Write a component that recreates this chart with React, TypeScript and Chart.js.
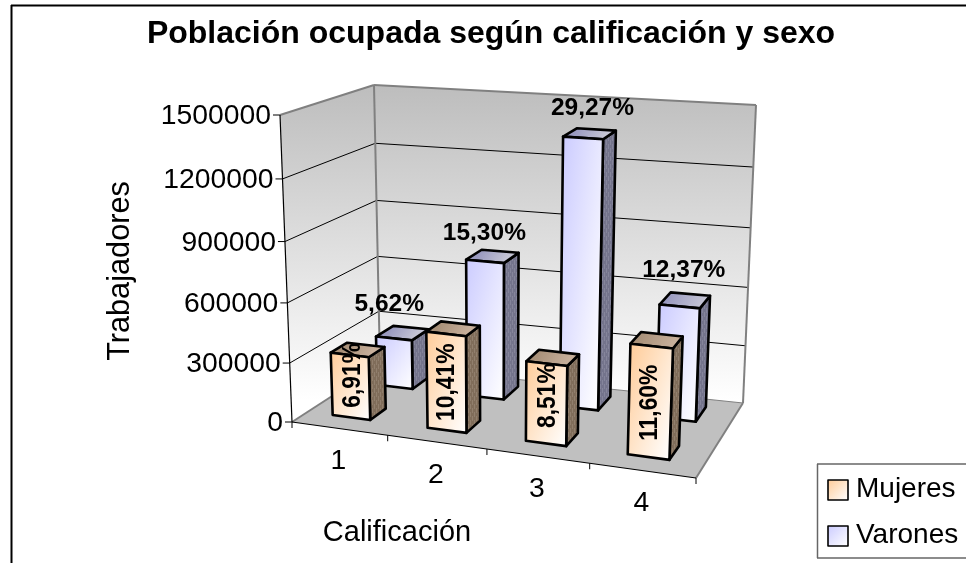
import React, { useEffect, useRef } from "react";
import { Chart, registerables } from "chart.js";

Chart.register(...registerables);

const chartTitle = "Población ocupada según calificación y sexo";
const xAxisTitle = "Calificación";
const yAxisTitle = "Trabajadores";
const categories = ["1", "2", "3", "4"];
const seriesNames = ["Mujeres", "Varones"];
const mujeres = [321000, 484000, 396000, 539000];
const varones = [261000, 711000, 1361000, 575000];
const mujeresLabels = ["6,91%", "10,41%", "8,51%", "11,60%"];
const varonesLabels = ["5,62%", "15,30%", "29,27%", "12,37%"];

type Pt = { x: number; y: number };
const FONT = '"Liberation Sans", Arial, sans-serif';

// Projection of the 3D box onto the canvas
const floorQuad: Pt[] = [
  { x: 292, y: 422 }, { x: 696, y: 478 }, { x: 743, y: 403 }, { x: 380, y: 365 },
];
const ceilQuad: Pt[] = [
  { x: 280, y: 115 }, { x: 708, y: 151 }, { x: 756, y: 105 }, { x: 374, y: 85 },
];

function bilinear(q: Pt[], u: number, d: number): Pt {
  const lx = q[0].x + (q[3].x - q[0].x) * d, ly = q[0].y + (q[3].y - q[0].y) * d;
  const rx = q[1].x + (q[2].x - q[1].x) * d, ry = q[1].y + (q[2].y - q[1].y) * d;
  return { x: lx + (rx - lx) * u, y: ly + (ry - ly) * u };
}
function project(u: number, d: number, v: number): Pt {
  const w = u - 0.07 * u * (1 - u);
  const B = bilinear(floorQuad, w, d), T = bilinear(ceilQuad, w, d);
  const f = v / (v + (1 - v) * 1.052);
  return { x: B.x + (T.x - B.x) * f, y: B.y + (T.y - B.y) * f };
}

function poly(ctx: CanvasRenderingContext2D, pts: Pt[], fill: any, stroke?: string, lw = 1) {
  ctx.beginPath();
  pts.forEach((p, i) => (i ? ctx.lineTo(p.x, p.y) : ctx.moveTo(p.x, p.y)));
  ctx.closePath();
  if (fill) { ctx.fillStyle = fill; ctx.fill(); }
  if (stroke) { ctx.strokeStyle = stroke; ctx.lineWidth = lw; ctx.lineJoin = "round"; ctx.stroke(); }
}
function seg(ctx: CanvasRenderingContext2D, a: Pt, b: Pt, color: string, lw: number) {
  ctx.beginPath(); ctx.moveTo(a.x, a.y); ctx.lineTo(b.x, b.y);
  ctx.strokeStyle = color; ctx.lineWidth = lw; ctx.stroke();
}
function text(ctx: CanvasRenderingContext2D, s: string, x: number, y: number, font: string, align: CanvasTextAlign = "center", rot = 0, squeeze = 1) {
  ctx.save();
  ctx.translate(x, y); if (rot) ctx.rotate(rot);
  if (squeeze !== 1) ctx.scale(squeeze, 1);
  ctx.font = font; ctx.fillStyle = "#000"; ctx.textAlign = align; ctx.textBaseline = "middle";
  ctx.fillText(s, 0, 0);
  ctx.restore();
}
function cornerGradient(ctx: CanvasRenderingContext2D, tl: Pt, br: Pt, c0: string, c1: string) {
  const W = Math.abs(br.x - tl.x), H = Math.abs(br.y - tl.y);
  const t = (W * H) / (H * H + W * W);
  const cx = (tl.x + br.x) / 2, cy = (tl.y + br.y) / 2;
  const g = ctx.createLinearGradient(cx - H * t, cy - W * t, cx + H * t, cy + W * t);
  g.addColorStop(0, c0); g.addColorStop(1, c1);
  return g;
}
function sidePattern(ctx: CanvasRenderingContext2D, base: string, light: string) {
  const c = document.createElement("canvas");
  c.width = 4; c.height = 8;
  const p = c.getContext("2d") as CanvasRenderingContext2D;
  p.fillStyle = base; p.fillRect(0, 0, 4, 8);
  p.fillStyle = light;
  p.fillRect(0, 0, 1, 5);
  p.fillRect(2, 4, 1, 5);
  p.fillRect(2, 0, 1, 1);
  return ctx.createPattern(c, "repeat");
}

const barStyle = [
  { front: "#FFCC99", side: "#806D5A", sideLight: "#917F6D", top0: "#A89078", top1: "#C8B09C" },
  { front: "#CCCCFF", side: "#74748C", sideLight: "#85859B", top0: "#9A9AC0", top1: "#C4C4D4" },
];
const depthBand = [[0.18, 0.37], [0.7, 0.9]];
const varonesLabelShift = [[-13, -29], [-8, -23], [3, -26], [-1, -30]];
const mujeresLabelShift = [[2, -11], [0, 0], [1, -8], [0, 1]];

const scene3d = {
  id: "scene3d",
  beforeDatasetsDraw(chart: any) {
    const ctx: CanvasRenderingContext2D = chart.ctx;
    const xs = chart.scales.x, ys = chart.scales.y;
    const uOf = (px: number) => (px - xs.left) / (xs.right - xs.left);
    const vOf = (val: number) => (ys.bottom - ys.getPixelForValue(val)) / (ys.bottom - ys.top);
    const catW = 1 / categories.length;

    // outer frame
    seg(ctx, { x: 11, y: 5.5 }, { x: 966, y: 5.5 }, "#000", 2);
    seg(ctx, { x: 11.5, y: 5 }, { x: 11.5, y: 563 }, "#000", 2);

    // walls
    const wallA = [project(0, 0, 1), project(0, 1, 1), project(0, 1, 0), project(0, 0, 0)];
    const wallB = [project(0, 1, 1), project(1, 1, 1), project(1, 1, 0), project(0, 1, 0)];
    const grad = ctx.createLinearGradient(0, 85, 0, 400);
    grad.addColorStop(0, "#BDBDBD"); grad.addColorStop(1, "#FFFFFF");
    poly(ctx, wallA, grad);
    poly(ctx, wallB, grad);
    poly(ctx, [project(0, 0, 0), project(1, 0, 0), project(1, 1, 0), project(0, 1, 0)], "#C0C0C0");

    // gridlines & y ticks
    ys.ticks.forEach((t: any) => {
      const v = vOf(t.value);
      if (v > 0 && v < 1) {
        seg(ctx, project(0, 0, v), project(0, 1, v), "#000", 1);
        seg(ctx, project(0, 1, v), project(1, 1, v), "#000", 1);
      }
      const p = project(0, 0, v);
      seg(ctx, p, { x: p.x - 7, y: p.y }, "#000", 1);
      text(ctx, String(t.value), p.x - 9, p.y + 1.5, `28.3px ${FONT}`, "right");
    });

    // wall edges
    seg(ctx, project(0, 0, 1), project(0, 1, 1), "#808080", 2);
    seg(ctx, project(0, 1, 1), project(1, 1, 1), "#808080", 2);
    seg(ctx, project(1, 1, 1), project(1, 1, 0), "#808080", 2);
    seg(ctx, project(0, 1, 1), project(0, 1, 0), "#808080", 2);
    seg(ctx, project(0, 0, 0), project(0, 1, 0), "#808080", 2);
    seg(ctx, project(1, 0, 0), project(1, 1, 0), "#808080", 2);
    seg(ctx, project(0, 1, 0), project(1, 1, 0), "#808080", 1);
    // axes
    seg(ctx, project(0, 0, 1), project(0, 0, 0), "#000", 1.2);
    seg(ctx, project(0, 0, 0), project(1, 0, 0), "#000", 1.2);

    // x ticks & labels
    for (let i = 0; i <= categories.length; i++) {
      const p = project(i * catW, 0, 0);
      seg(ctx, p, { x: p.x, y: p.y + 6 }, "#000", 1);
    }
    categories.forEach((c, i) => {
      const p = project(uOf(xs.getPixelForValue(i)), 0, 0);
      text(ctx, c, p.x - 1, p.y + 33, `28.3px ${FONT}`);
    });

    // bars: back series first
    const labels: (() => void)[] = [];
    [1, 0].forEach((ds) => {
      const values = chart.data.datasets[ds].data as number[];
      const st = barStyle[ds];
      const [d0, d1] = depthBand[ds];
      const sideFill = sidePattern(ctx, st.side, st.sideLight);
      values.forEach((val, i) => {
        const uc = uOf(xs.getPixelForValue(i)) - 0.008;
        const u0 = uc - 0.2 * catW, u1 = uc + 0.2 * catW;
        const v = vOf(val);
        const fbl = project(u0, d0, 0), fbr = project(u1, d0, 0);
        const ftl = project(u0, d0, v), ftr = project(u1, d0, v);
        const bbr = project(u1, d1, 0), btr = project(u1, d1, v), btl = project(u0, d1, v);
        poly(ctx, [ftr, btr, bbr, fbr], sideFill, "#000", 2.6);
        const gt = ctx.createLinearGradient(btl.x, btl.y, ftr.x, ftr.y);
        gt.addColorStop(0, st.top0); gt.addColorStop(1, st.top1);
        poly(ctx, [ftl, ftr, btr, btl], gt, "#000", 2.6);
        poly(ctx, [ftl, ftr, fbr, fbl], cornerGradient(ctx, ftl, fbr, st.front, "#FFFFFF"), "#000", 2.6);
        if (ds === 1) {
          const [sx, sy] = varonesLabelShift[i];
          const cx = (ftl.x + btr.x) / 2, cy = (btl.y + ftr.y) / 2;
          labels.push(() => text(ctx, varonesLabels[i], cx + sx, cy + sy, `bold 24.5px ${FONT}`));
        } else {
          const [sx, sy] = mujeresLabelShift[i];
          const cx = (ftl.x + fbr.x) / 2, cy = (ftl.y + fbr.y) / 2;
          labels.push(() => text(ctx, mujeresLabels[i], cx + sx, cy + sy, `bold 26.5px ${FONT}`, "center", -Math.PI / 2, 0.86));
        }
      });
    });
    labels.forEach((fn) => fn());

    // axis titles
    text(ctx, xAxisTitle, 397, 533, `29px ${FONT}`);
    text(ctx, yAxisTitle, 121, 271, `30.7px ${FONT}`, "center", -Math.PI / 2);

    // legend
    ctx.fillStyle = "#FFF"; ctx.fillRect(817, 464, 149, 94);
    seg(ctx, { x: 817, y: 464 }, { x: 966, y: 464 }, "#666", 1.5);
    seg(ctx, { x: 817, y: 558 }, { x: 966, y: 558 }, "#666", 1.5);
    seg(ctx, { x: 817.5, y: 464 }, { x: 817.5, y: 558 }, "#666", 1.5);
    seriesNames.forEach((name, i) => {
      const y = 490 + i * 46;
      poly(ctx, [{ x: 828, y: y - 10 }, { x: 848, y: y - 10 }, { x: 848, y: y + 10 }, { x: 828, y: y + 10 }],
        cornerGradient(ctx, { x: 828, y: y - 10 }, { x: 848, y: y + 10 }, barStyle[i].front, "#FFF"), "#000", 1.6);
      text(ctx, name, 856, y - 1, `28px ${FONT}`, "left");
    });
    return;
  },
  beforeDatasetDraw() { return false; },
};

export default function App() {
  const ref = useRef<HTMLCanvasElement>(null);
  useEffect(() => {
    const chart = new Chart(ref.current as HTMLCanvasElement, {
      type: "bar",
      data: {
        labels: categories,
        datasets: [
          { label: seriesNames[0], data: mujeres, backgroundColor: "#FFCC99" },
          { label: seriesNames[1], data: varones, backgroundColor: "#CCCCFF" },
        ],
      },
      options: {
        responsive: false,
        animation: false,
        layout: { padding: { left: 20, right: 4, top: 0, bottom: 141 } },
        plugins: {
          legend: { display: false },
          tooltip: { enabled: false },
          title: {
            display: true,
            text: chartTitle,
            color: "#000",
            font: { family: FONT, size: 32, weight: "bold" },
            padding: { top: 15, bottom: 60 },
          },
        },
        scales: {
          x: { display: false, type: "category" },
          y: { display: false, min: 0, max: 1500000, ticks: { stepSize: 300000 } },
        },
      },
      plugins: [scene3d],
    } as any);
    return () => chart.destroy();
  }, []);
  return (
    <div style={{ position: "absolute", left: 0, top: 0, width: 966, height: 563, background: "#fff" }}>
      <canvas ref={ref} width={966} height={563} style={{ display: "block" }} />
    </div>
  );
}
